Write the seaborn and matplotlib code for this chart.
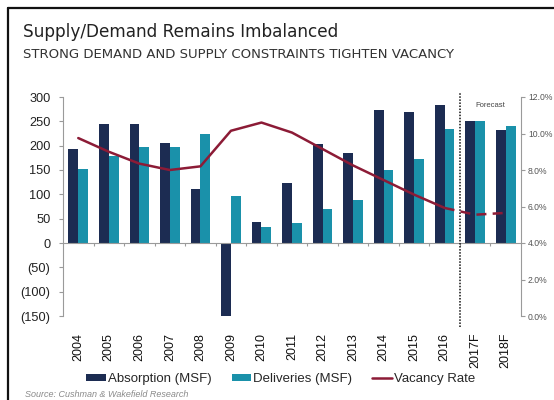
import numpy as np
import pandas as pd
import matplotlib
matplotlib.use("Agg")
import matplotlib.pyplot as plt
import seaborn as sns
from matplotlib.patches import Patch
from matplotlib.lines import Line2D
from matplotlib.ticker import FuncFormatter, MultipleLocator

# ---------------- data ----------------
years = ["2004", "2005", "2006", "2007", "2008", "2009", "2010", "2011",
         "2012", "2013", "2014", "2015", "2016", "2017F", "2018F"]
absorption = [193, 244, 244, 205, 111, -150, 43, 124, 203, 185, 274, 270, 284, 251, 233]
deliveries = [152, 178, 198, 197, 224, 97, 32, 41, 70, 89, 149, 173, 234, 250, 241]
vacancy_actual = [9.75, 9.0, 8.35, 8.0, 8.2, 10.15, 10.6, 10.05, 9.15, 8.25, 7.45, 6.65, 5.92]
vacancy_forecast = [5.92, 5.55, 5.65]   # 2016 -> 2017F -> 2018F
series_names = ["Absorption (MSF)", "Deliveries (MSF)", "Vacancy Rate"]

navy = "#1c2c52"
teal = "#1a91aa"
maroon = "#8c1b36"
spine_gray = "#9a9a9a"

sns.set_style("white")
plt.rcParams["font.family"] = ["Liberation Sans", "DejaVu Sans"]

df = pd.DataFrame({
    "year": years * 2,
    "value": absorption + deliveries,
    "series": [series_names[0]] * len(years) + [series_names[1]] * len(years),
})

fig = plt.figure(figsize=(5.54, 4.0), dpi=100)
ax = fig.add_axes([63 / 554, 1 - 316 / 400, (521 - 63) / 554, (316 - 97) / 400])

sns.barplot(data=df, x="year", y="value", hue="series", palette=[navy, teal],
            width=0.64, dodge=True, saturation=1, ax=ax, legend=False)
for p in ax.patches:
    p.set_edgecolor("none")

n = len(years)
pos = np.arange(n)
ax.set_xlim(-0.5, n - 0.5)
ax.set_ylim(-150, 300)
ax.yaxis.set_major_locator(MultipleLocator(50))
ax.yaxis.set_major_formatter(FuncFormatter(lambda v, _: f"({abs(int(v))})" if v < 0 else f"{int(v)}"))
ax.set_xlabel("")
ax.set_ylabel("")
ax.set_xticks(pos)
ax.set_xticklabels(years, rotation=90, fontsize=9, color="#111111")
ax.tick_params(axis="x", length=0, pad=12)
ax.tick_params(axis="y", direction="out", length=3, width=0.8, color=spine_gray,
               labelsize=9.2, labelcolor="#222222", pad=6)
for s in ["top", "bottom", "right"]:
    ax.spines[s].set_visible(False)
ax.spines["left"].set_color(spine_gray)
ax.spines["left"].set_linewidth(0.8)

# zero line with boundary ticks
ax.axhline(0, color=spine_gray, lw=0.8, zorder=1)
bounds = np.arange(n + 1) - 0.5
ax.vlines(bounds[1:-1], -6, 0, color=spine_gray, lw=0.8, zorder=1)

# vacancy on right axis
ax2 = ax.twinx()
n_act = len(vacancy_actual)
sns.lineplot(x=pos[:n_act], y=vacancy_actual, color=maroon, lw=1.8, ax=ax2, legend=False)
ax2.plot(pos[n_act - 1:], vacancy_forecast, color=maroon, lw=1.8, ls=(0, (4, 2.5)))
ax2.set_ylim(0, 12)
ax2.yaxis.set_major_locator(MultipleLocator(2))
ax2.yaxis.set_major_formatter(FuncFormatter(lambda v, _: f"{v:.1f}%"))
ax2.tick_params(axis="y", direction="out", length=3, width=0.8, color=spine_gray,
                labelsize=6.2, labelcolor="#555555", pad=2)
for s in ["top", "bottom", "left"]:
    ax2.spines[s].set_visible(False)
ax2.spines["right"].set_color(spine_gray)
ax2.spines["right"].set_linewidth(0.8)
ax2.set_xlim(-0.5, n - 0.5)

# forecast divider
ax.axvline(n_act - 0.5, ymin=-0.05, ymax=1.02, color="#111111", lw=1.1,
           ls=(0, (1, 1)), clip_on=False, zorder=5)
ax.annotate("Forecast", xy=(np.mean(pos[n_act:]), 0.975), xycoords=("data", "axes fraction"),
            ha="center", va="top", fontsize=5.5, color="#444444")

# legend
handles = [Patch(facecolor=navy, edgecolor="none"),
           Patch(facecolor=teal, edgecolor="none"),
           Line2D([0], [0], color=maroon, lw=1.8)]
fig.legend(handles, series_names, loc="center", bbox_to_anchor=(0.507, 0.052), ncol=3,
           frameon=False, fontsize=9.5, handlelength=1.5, handleheight=0.45,
           handletextpad=0.15, columnspacing=1.5)

# titles
fig.text(23 / 554, 1 - 37 / 400, "Supply/Demand Remains Imbalanced", fontsize=12.2,
         color="#222222", family="DejaVu Sans", va="baseline")
fig.text(23 / 554, 1 - 57.5 / 400, "STRONG DEMAND AND SUPPLY CONSTRAINTS TIGHTEN VACANCY",
         fontsize=9.5, color="#333333", family="DejaVu Sans", va="baseline")
fig.text(25 / 554, 0.002, "Source: Cushman & Wakefield Research", fontsize=6.5,
         style="italic", color="#8a8a8a", va="bottom")

# slide frame
fig.add_artist(Line2D([7.5 / 554, 7.5 / 554], [0, 1 - 7.5 / 400], transform=fig.transFigure,
                      color="#111111", lw=1.6))
fig.add_artist(Line2D([7.5 / 554, 1], [1 - 7.5 / 400, 1 - 7.5 / 400], transform=fig.transFigure,
                      color="#111111", lw=1.6))

fig.savefig("out.png", dpi=100)
